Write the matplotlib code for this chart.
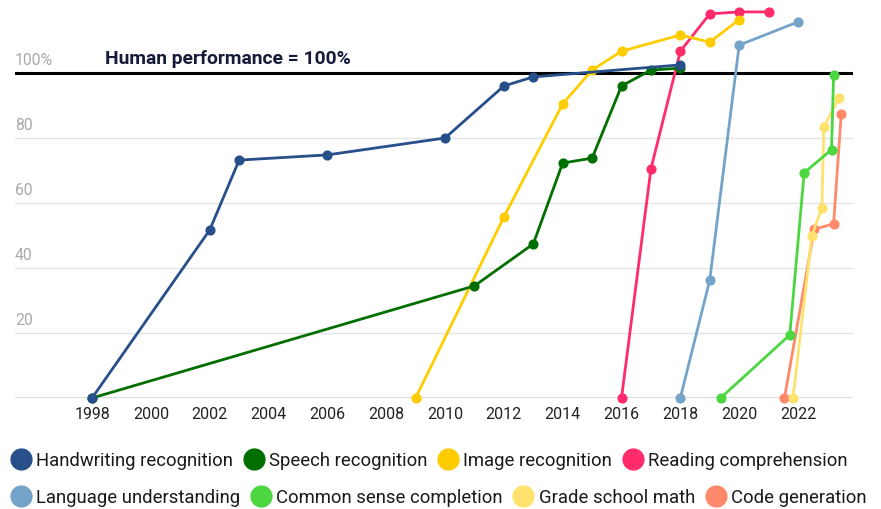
import matplotlib
matplotlib.use("Agg")
import matplotlib.pyplot as plt
from matplotlib.lines import Line2D
import matplotlib.transforms as mtransforms

plt.rcParams['font.family'] = ['Roboto', 'DejaVu Sans']

# ---- data ----
names = ["Handwriting recognition", "Speech recognition", "Image recognition",
         "Reading comprehension", "Language understanding", "Common sense completion",
         "Grade school math", "Code generation"]
colors = ["#274f8a", "#006f00", "#ffcc00", "#ff2b6b",
          "#73a3c9", "#4cd640", "#ffe16e", "#ff8a6b"]

hw_x = [1998, 2002, 2003, 2006, 2010, 2012, 2013, 2018]
hw_y = [0, 51.7, 73.2, 74.8, 80.0, 96.0, 98.8, 102.5]

sp_x = [1998, 2011, 2013, 2014, 2015, 2016, 2017, 2018]
sp_y = [0, 34.5, 47.4, 72.3, 73.8, 96.0, 100.9, 101.5]

im_x = [2009, 2012, 2014, 2015, 2016, 2018, 2019, 2020]
im_y = [0, 55.7, 90.5, 100.9, 106.7, 111.7, 109.5, 116.4]

rc_x = [2016, 2017, 2018, 2019, 2020, 2021]
rc_y = [0, 70.5, 106.7, 118.2, 118.8, 118.8]

lu_x = [2018, 2019, 2020, 2022]
lu_y = [0, 36.3, 108.6, 115.7]

cs_x = [2019.37, 2021.72, 2022.21, 2023.14, 2023.21]
cs_y = [0, 19.4, 69.3, 76.4, 99.4]

gm_x = [2021.83, 2022.47, 2022.81, 2022.88, 2023.39]
gm_y = [0, 49.9, 58.4, 83.5, 92.2]

cg_x = [2021.54, 2022.55, 2023.21, 2023.47]
cg_y = [0, 51.9, 53.6, 87.4]

series_x = [hw_x, sp_x, im_x, rc_x, lu_x, cs_x, gm_x, cg_x]
series_y = [hw_y, sp_y, im_y, rc_y, lu_y, cs_y, gm_y, cg_y]

x_ticks = list(range(1998, 2023, 2))
y_grid = [20, 40, 60, 80]
y_labels = ["20", "40", "60", "80"]

# ---- figure ----
W, H = 881, 510
fig = plt.figure(figsize=(W / 100, H / 100), dpi=100)
ax_left, ax_right, ax_bottom, ax_top = 15, 853, 399, 2.5
ax = fig.add_axes([ax_left / W, 1 - ax_bottom / H,
                   (ax_right - ax_left) / W, (ax_bottom - ax_top) / H])
ax.set_xlim(1995.38, 2023.87)
ax.set_ylim(0, 122)

for s in ax.spines.values():
    s.set_visible(False)

for g in y_grid:
    ax.axhline(g, color="#e4e4e4", lw=1.0, zorder=0)
ax.axhline(0, color="#444444", lw=1.0, zorder=1)
ax.axhline(100, color="black", lw=2.2, zorder=2)

lab_tr = mtransforms.offset_copy(ax.get_yaxis_transform(), fig=fig, x=0, y=4, units="points")
for g, l in zip(y_grid, y_labels):
    ax.text(0, g, l, transform=lab_tr, ha="left", va="bottom",
            fontsize=11.3, color="#a9a9a9")
ax.text(0, 100, "100%", transform=lab_tr, ha="left", va="bottom",
        fontsize=11.3, color="#a9a9a9")

hp_tr = mtransforms.offset_copy(ax.transData, fig=fig, x=0, y=4, units="points")
ax.text(1998.44, 100, "Human performance = 100%", transform=hp_tr,
        ha="left", va="bottom", fontsize=13.9, fontweight="bold", color="#161b3a")

for i in reversed(range(len(names))):
    ax.plot(series_x[i], series_y[i], color=colors[i], lw=2.0, marker="o",
            markersize=6.3, zorder=3 + (len(names) - i) * 0.1, clip_on=False)

ax.set_xticks(x_ticks)
ax.set_xticklabels([str(t) for t in x_ticks], fontsize=11.5, color="#222222")
ax.tick_params(axis="x", length=0, pad=6)
ax.set_yticks([])

# ---- legend (two flowing rows) ----
handles = [Line2D([], [], ls="none", marker="o", markersize=15,
                  markerfacecolor=c, markeredgecolor=c) for c in colors]
rows = [(0, 4, 461), (4, 8, 498)]
for a, b, yc in rows:
    leg = fig.legend(handles[a:b], names[a:b], loc="center left",
                     bbox_to_anchor=(10 / W, 1 - yc / H), ncol=4, frameon=False,
                     fontsize=13.3, handlelength=1.15, handletextpad=0.25,
                     columnspacing=0.55, borderpad=0, borderaxespad=0)
    for t in leg.get_texts():
        t.set_color("#1a1a1a")

fig.savefig("out.png", dpi=100)
